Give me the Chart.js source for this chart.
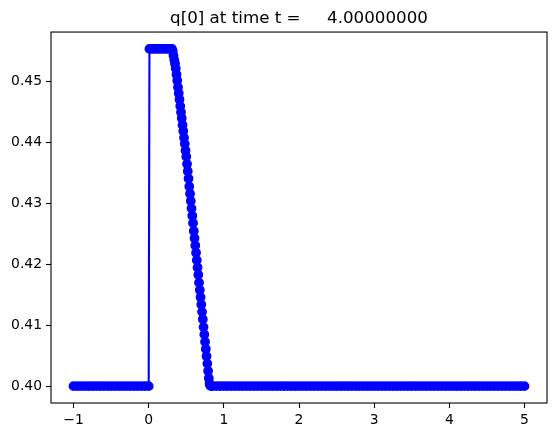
<!DOCTYPE html>
<html>
<head>
<meta charset="utf-8">
<script src="https://cdn.jsdelivr.net/npm/chart.js@4/dist/chart.umd.min.js"></script>
<style>
	html, body { margin: 0; padding: 0; background: #fff; }
	#wrap { width: 556px; height: 435px; }
</style>
</head>
<body>
<div id="wrap"><canvas id="c"></canvas></div>
<script>
// q[0], in pieces
let leftX = [-1.00, -0.95, -0.90, -0.85, -0.80, -0.75, -0.70, -0.65, -0.60, -0.55, -0.50,
	-0.45, -0.40, -0.35, -0.30, -0.25, -0.20, -0.15, -0.10, -0.05, 0.00];
let leftQ = 0.4000;

let plateauX = [0.01, 0.04, 0.07, 0.10, 0.13, 0.16, 0.19, 0.22, 0.25, 0.28, 0.31];
let plateauQ = 0.4554;

let frontX = [0.32, 0.33, 0.34, 0.35, 0.36, 0.37, 0.38, 0.39, 0.40, 0.41, 0.42, 0.43, 0.44,
	0.45, 0.46, 0.47, 0.48, 0.49, 0.50, 0.51, 0.52, 0.53, 0.54, 0.55, 0.56, 0.57, 0.58,
	0.59, 0.60, 0.61, 0.62, 0.63, 0.64, 0.65, 0.66, 0.67, 0.68, 0.69, 0.70, 0.71, 0.72,
	0.73, 0.74, 0.75, 0.76, 0.77, 0.78, 0.79, 0.80, 0.81, 0.82, 0.83];
let frontQ = [0.4550, 0.4543, 0.4536, 0.4530, 0.4522, 0.4512, 0.4502, 0.4491, 0.4481, 0.4471,
	0.4460, 0.4450, 0.4440, 0.4429, 0.4419, 0.4408, 0.4398, 0.4387, 0.4377, 0.4365, 0.4353,
	0.4341, 0.4328, 0.4316, 0.4304, 0.4292, 0.4280, 0.4268, 0.4255, 0.4243, 0.4231, 0.4219,
	0.4207, 0.4195, 0.4183, 0.4170, 0.4158, 0.4146, 0.4134, 0.4122, 0.4110, 0.4097, 0.4085,
	0.4073, 0.4061, 0.4049, 0.4037, 0.4025, 0.4013, 0.4004, 0.4001, 0.4000];

let rightX = [0.85, 0.90, 0.95, 1.00, 1.05, 1.10, 1.15, 1.20, 1.25, 1.30, 1.35, 1.40, 1.45,
	1.50, 1.55, 1.60, 1.65, 1.70, 1.75, 1.80, 1.85, 1.90, 1.95, 2.00, 2.05, 2.10, 2.15,
	2.20, 2.25, 2.30, 2.35, 2.40, 2.45, 2.50, 2.55, 2.60, 2.65, 2.70, 2.75, 2.80, 2.85,
	2.90, 2.95, 3.00, 3.05, 3.10, 3.15, 3.20, 3.25, 3.30, 3.35, 3.40, 3.45, 3.50, 3.55,
	3.60, 3.65, 3.70, 3.75, 3.80, 3.85, 3.90, 3.95, 4.00, 4.05, 4.10, 4.15, 4.20, 4.25,
	4.30, 4.35, 4.40, 4.45, 4.50, 4.55, 4.60, 4.65, 4.70, 4.75, 4.80, 4.85, 4.90, 4.95, 5.00];
let rightQ = 0.4000;

let xTicks = [-1, 0, 1, 2, 3, 4, 5];
let yTicks = [0.40, 0.41, 0.42, 0.43, 0.44, 0.45];
let titleText = 'q[0] at time t =     4.00000000';

let points = [];
leftX.forEach((x) => points.push({x: x, y: leftQ}));
plateauX.forEach((x) => points.push({x: x, y: plateauQ}));
frontX.forEach((x, i) => points.push({x: x, y: frontQ[i]}));
rightX.forEach((x) => points.push({x: x, y: rightQ}));

let font = {family: 'DejaVu Sans', size: 13.9};

// matplotlib-style box round the axes
let frame = {
	id: 'frame',
	afterDatasetsDraw: function(chart) {
		let a = chart.chartArea;
		let ctx = chart.ctx;
		ctx.save();
		ctx.strokeStyle = '#000';
		ctx.lineWidth = 1.1;
		ctx.strokeRect(a.left, a.top, a.right - a.left, a.bottom - a.top);
		ctx.restore();
	},
};

let config = {
	type: 'line',
	data: {
		datasets: [{
			data: points,
			borderColor: '#0000ff',
			backgroundColor: '#0000ff',
			borderWidth: 2.1,
			pointRadius: 4.2,
			pointBorderWidth: 1.4,
			pointBackgroundColor: '#0000ff',
			pointBorderColor: '#0000ff',
			tension: 0,
		}],
	},
	options: {
		responsive: true,
		maintainAspectRatio: false,
		animation: false,
		events: [],
		layout: {padding: {left: 0, right: 9, top: 0, bottom: 0}},
		plugins: {
			legend: {display: false},
			tooltip: {enabled: false},
			title: {
				display: true,
				text: titleText,
				fullSize: false,
				color: '#000',
				font: {family: 'DejaVu Sans', size: 16.7, weight: 'normal'},
				padding: {top: 9, bottom: 3},
			},
		},
		scales: {
			x: {
				type: 'linear',
				min: -1.3,
				max: 5.3,
				afterBuildTicks: (scale) => { scale.ticks = xTicks.map((v) => ({value: v})); },
				afterFit: (scale) => { scale.height = 32; },
				border: {display: false},
				grid: {drawOnChartArea: false, drawTicks: true, tickLength: 5, tickWidth: 1.1, tickColor: '#000', color: '#000'},
				ticks: {
					color: '#000',
					font: font,
					padding: 4,
					maxRotation: 0,
					autoSkip: false,
					callback: (v) => String(v).replace('-', '\u2212'),
				},
			},
			y: {
				type: 'linear',
				min: 0.39723,
				max: 0.45817,
				afterBuildTicks: (scale) => { scale.ticks = yTicks.map((v) => ({value: v})); },
				afterFit: (scale) => { scale.width = 51; },
				border: {display: false},
				grid: {drawOnChartArea: false, drawTicks: true, tickLength: 5, tickWidth: 1.1, tickColor: '#000', color: '#000'},
				ticks: {
					color: '#000',
					font: font,
					padding: 4,
					autoSkip: false,
					callback: (v) => v.toFixed(2),
				},
			},
		},
	},
	plugins: [frame],
};

new Chart(document.getElementById('c').getContext('2d'), config);
</script>
</body>
</html>
